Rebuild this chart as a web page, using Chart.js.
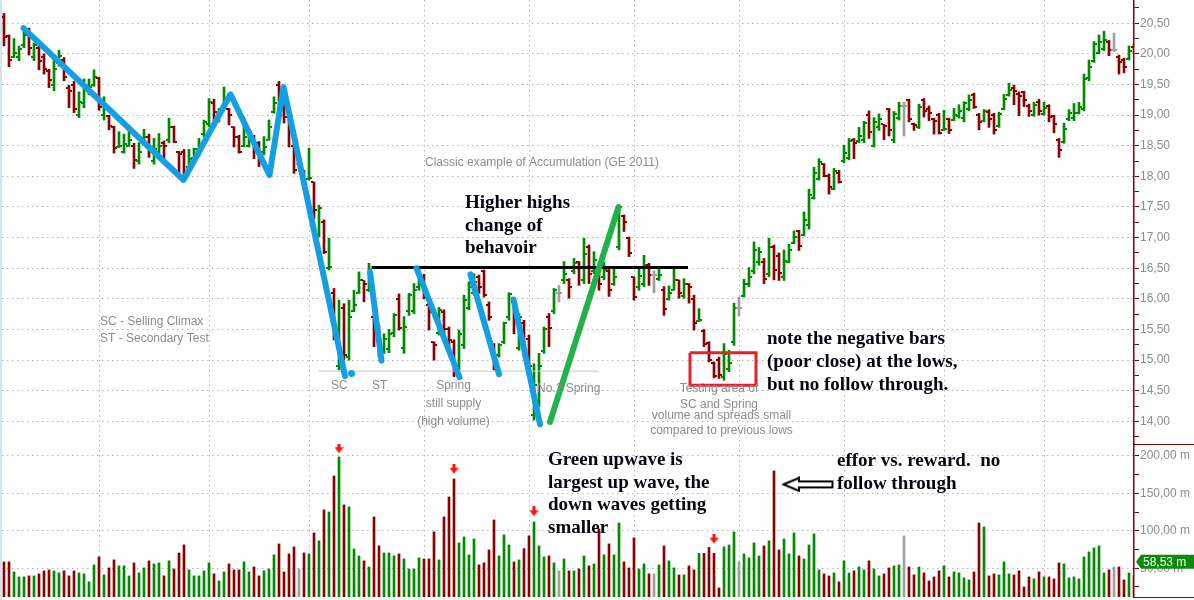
<!DOCTYPE html>
<html>
<head>
<meta charset="utf-8">
<script src="https://cdn.jsdelivr.net/npm/chart.js@4.4.1/dist/chart.umd.min.js"></script>
<style>
  html, body { margin: 0; padding: 0; background: #fff; }
  #wrap { width: 1194px; height: 600px; position: relative; }
  #c { background: linear-gradient(to right, #d6e4ef 0, #d6e4ef 2px, #ffffff 2px); }
</style>
</head>
<body>
<div id="wrap"><canvas id="c"></canvas></div>
<script>
// GE daily bars, one entry per session
const opens = [
  20.6, 20.3, 19.95, 19.95, 20.15, 20.35, 19.95, 20.1, 19.95, 19.72,
  19.5, 19.85, 19.9, 19.45, 19.5, 19.0, 19.2, 19.4, 19.5, 19.6,
  19.0, 18.98, 18.8, 18.48, 18.4, 18.5, 18.5, 18.25, 18.55, 18.65,
  18.25, 18.4, 18.55, 18.6, 18.8, 18.4, 18.4, 18.15, 18.3, 18.35,
  18.7, 18.85, 19.2, 18.95, 19.15, 19.1, 18.8, 18.65, 18.5, 18.5,
  18.65, 18.55, 18.4, 18.6, 19.05, 19.5, 19.15, 19.1, 18.5, 18.2,
  18.08, 17.95, 17.9, 17.05, 17.25, 16.5, 16.1, 14.9, 15.85, 15.05,
  15.8, 16.1, 16.3, 16.15, 15.7, 15.5, 15.15, 15.18, 15.45, 16.0,
  15.2, 15.8, 15.8, 16.2, 16.35, 15.9, 15.3, 15.45, 15.78, 15.5,
  15.3, 14.9, 15.25, 15.85, 16.1, 16.35, 16.45, 15.9, 15.25, 15.08,
  15.3, 15.7, 15.95, 15.2, 15.6, 15.35, 14.1, 14.3, 15.15, 15.7,
  15.8, 16.1, 16.3, 16.3, 16.45, 16.6, 16.3, 16.85, 16.45, 16.45,
  16.35, 16.45, 16.25, 16.85, 17.35, 17.0, 16.35, 16.2, 16.25, 16.55,
  16.39, 16.32, 16.15, 16.0, 16.15, 16.3, 16.05, 16.25, 16.0, 15.64,
  15.48, 15.28, 14.95, 15.0, 14.72, 14.85, 15.3, 15.85, 16.05, 16.25,
  16.45, 16.6, 16.6, 16.4, 16.85, 16.7, 16.35, 16.6, 16.92, 17.1,
  17.05, 17.2, 17.65, 17.95, 18.2, 18.0, 17.8, 18.05, 18.25, 18.3,
  18.6, 18.57, 18.6, 19.0, 18.5, 18.8, 18.85, 19.1, 18.6, 18.95,
  19.15, 19.25, 18.86, 18.8, 19.25, 19.1, 18.93, 19.0, 18.75, 18.93,
  18.92, 18.98, 18.95, 19.1, 19.33, 19.0, 18.9, 19.05, 19.0, 18.82,
  19.1, 19.33, 19.45, 19.35, 19.38, 19.15, 19.0, 19.22, 19.02, 19.15,
  18.98, 18.6, 18.56, 18.93, 18.95, 19.04, 19.1, 19.6, 19.88, 20.02,
  20.08, 20.2, 20.06, 19.95, 19.9, 19.92, 20.12
];
const highs = [
  20.66, 20.31, 20.25, 20.13, 20.42, 20.42, 20.18, 20.13, 20.0, 19.75,
  19.89, 20.06, 19.94, 19.49, 19.55, 19.38, 19.59, 19.59, 19.74, 19.62,
  19.3, 19.0, 18.82, 18.73, 18.69, 18.73, 18.54, 18.55, 18.77, 18.69,
  18.62, 18.7, 18.58, 18.95, 18.82, 18.41, 18.44, 18.44, 18.46, 18.62,
  18.92, 19.27, 19.26, 19.11, 19.46, 19.11, 18.81, 18.67, 18.84, 18.7,
  18.67, 18.57, 18.65, 18.92, 19.3, 19.55, 19.17, 19.11, 18.54, 18.27,
  18.1, 18.46, 17.91, 17.53, 17.29, 16.99, 16.17, 15.98, 15.92, 15.98,
  16.14, 16.44, 16.3, 16.58, 15.73, 15.57, 15.43, 15.5, 15.76, 16.08,
  15.71, 16.09, 16.25, 16.5, 16.4, 15.92, 15.3, 15.86, 15.82, 15.54,
  15.33, 15.49, 16.06, 16.28, 16.41, 16.39, 16.47, 15.95, 15.27, 15.27,
  15.62, 16.1, 15.98, 15.76, 15.65, 15.41, 14.94, 15.11, 15.54, 15.76,
  16.17, 16.22, 16.61, 16.33, 16.66, 16.61, 16.99, 16.88, 16.77, 16.5,
  16.6, 16.5, 16.5, 17.51, 17.37, 17.01, 16.36, 16.5, 16.71, 16.58,
  16.46, 16.5, 16.2, 16.21, 16.5, 16.31, 16.33, 16.25, 16.06, 15.84,
  15.5, 15.3, 14.97, 15.05, 15.27, 15.16, 15.93, 16.03, 16.32, 16.51,
  16.93, 16.84, 16.66, 16.99, 16.88, 16.75, 16.8, 16.89, 17.11, 17.12,
  17.42, 17.79, 18.15, 18.29, 18.21, 18.04, 18.13, 18.1, 18.51, 18.62,
  18.62, 18.8, 18.9, 19.07, 18.96, 19.02, 18.85, 19.11, 19.06, 19.21,
  19.21, 19.26, 18.87, 19.18, 19.27, 19.15, 18.95, 19.03, 19.08, 18.95,
  19.11, 19.17, 19.22, 19.33, 19.36, 19.03, 19.09, 19.09, 19.03, 19.05,
  19.34, 19.52, 19.49, 19.38, 19.39, 19.18, 19.21, 19.26, 19.21, 19.17,
  19.0, 18.62, 18.87, 19.09, 19.19, 19.21, 19.67, 19.9, 20.2, 20.31,
  20.37, 20.22, 20.34, 19.98, 19.93, 20.13, 20.16
];
const lows = [
  20.13, 19.79, 19.94, 19.89, 20.1, 19.98, 19.89, 19.74, 19.67, 19.45,
  19.4, 19.8, 19.56, 19.12, 19.04, 18.96, 19.12, 19.33, 19.47, 19.08,
  18.92, 18.76, 18.38, 18.47, 18.38, 18.49, 18.13, 18.2, 18.5, 18.31,
  18.2, 18.36, 18.3, 18.55, 18.55, 18.03, 17.94, 18.13, 18.26, 18.33,
  18.65, 18.81, 18.92, 18.89, 19.11, 18.84, 18.48, 18.38, 18.48, 18.48,
  18.29, 18.16, 18.35, 18.59, 19.03, 19.11, 18.87, 18.48, 18.05, 18.1,
  17.78, 17.94, 17.31, 17.01, 16.74, 16.47, 15.33, 14.84, 15.0, 15.0,
  15.79, 16.09, 15.95, 16.12, 15.22, 15.05, 15.11, 15.12, 15.38, 15.49,
  15.11, 15.73, 15.76, 16.14, 16.0, 15.49, 15.0, 15.41, 15.43, 15.16,
  14.73, 14.84, 15.19, 15.82, 16.06, 16.09, 16.03, 15.65, 14.84, 15.05,
  15.27, 15.65, 15.43, 15.16, 15.05, 14.84, 14.02, 14.24, 15.11, 15.22,
  15.76, 15.95, 16.25, 16.01, 16.41, 16.22, 16.25, 16.25, 16.41, 16.14,
  16.31, 16.04, 16.22, 16.8, 17.1, 16.69, 15.98, 16.14, 16.2, 16.22,
  16.1, 16.3, 15.73, 15.98, 16.14, 16.01, 16.01, 15.93, 15.49, 15.63,
  15.22, 14.97, 14.71, 14.7, 14.67, 14.81, 15.24, 15.72, 16.03, 16.2,
  16.41, 16.55, 16.25, 16.36, 16.31, 16.3, 16.3, 16.59, 16.9, 16.79,
  17.03, 17.14, 17.63, 17.94, 17.99, 17.71, 17.78, 17.89, 18.22, 18.27,
  18.29, 18.55, 18.55, 18.62, 18.48, 18.75, 18.6, 18.66, 18.55, 18.92,
  18.66, 18.89, 18.75, 18.78, 18.97, 18.91, 18.69, 18.69, 18.75, 18.7,
  18.91, 18.95, 18.89, 19.07, 19.11, 18.76, 18.89, 18.8, 18.69, 18.8,
  19.09, 19.31, 19.17, 18.99, 19.14, 18.98, 18.98, 19.0, 19.0, 18.89,
  18.71, 18.31, 18.54, 18.91, 18.91, 19.02, 19.07, 19.56, 19.86, 20.0,
  20.05, 19.97, 20.04, 19.67, 19.69, 19.9, 20.01
];
const closes = [
  20.28, 19.9, 20.02, 20.08, 20.31, 20.1, 20.15, 19.89, 19.75, 19.58,
  19.76, 19.97, 19.63, 19.4, 19.1, 19.21, 19.46, 19.46, 19.63, 19.13,
  19.15, 18.83, 18.47, 18.5, 18.53, 18.6, 18.26, 18.4, 18.64, 18.47,
  18.44, 18.5, 18.5, 18.81, 18.56, 18.37, 17.99, 18.28, 18.45, 18.46,
  18.89, 19.21, 19.05, 19.08, 19.27, 19.0, 18.65, 18.39, 18.65, 18.62,
  18.51, 18.29, 18.48, 18.81, 19.19, 19.33, 18.97, 19.03, 18.1, 18.2,
  17.83, 17.98, 17.45, 17.48, 16.77, 16.52, 15.43, 15.11, 15.08, 15.7,
  15.9, 16.31, 16.25, 16.47, 15.6, 15.11, 15.35, 15.42, 15.73, 15.52,
  15.54, 16.06, 16.14, 16.28, 16.1, 15.79, 15.25, 15.82, 15.5, 15.33,
  14.81, 15.43, 15.98, 16.2, 16.28, 16.2, 16.06, 15.71, 14.89, 15.24,
  15.6, 16.08, 15.71, 15.7, 15.15, 14.9, 14.6, 14.9, 15.5, 15.52,
  16.14, 16.1, 16.41, 16.2, 16.58, 16.52, 16.74, 16.4, 16.63, 16.25,
  16.47, 16.15, 16.36, 17.5, 17.26, 16.75, 16.03, 16.37, 16.55, 16.39,
  16.39, 16.39, 15.84, 16.09, 16.31, 16.1, 16.25, 16.2, 15.6, 15.66,
  15.27, 15.0, 14.74, 14.75, 15.1, 14.95, 15.85, 15.85, 16.25, 16.35,
  16.8, 16.77, 16.33, 16.85, 16.47, 16.43, 16.62, 16.8, 17.01, 16.86,
  17.29, 17.69, 18.06, 18.24, 18.0, 17.83, 18.08, 17.91, 18.38, 18.57,
  18.55, 18.66, 18.87, 18.73, 18.89, 18.94, 18.83, 18.75, 19.02, 19.15,
  19.15, 18.94, 18.84, 19.14, 19.07, 19.04, 18.91, 18.71, 18.78, 18.76,
  19.0, 19.06, 19.19, 19.25, 19.13, 18.89, 19.07, 18.94, 18.76, 19.02,
  19.27, 19.41, 19.4, 19.31, 19.25, 19.07, 19.17, 19.06, 19.12, 18.97,
  18.85, 18.43, 18.78, 19.04, 19.04, 19.14, 19.59, 19.79, 20.16, 20.2,
  20.22, 20.06, 20.06, 19.86, 19.79, 20.05, 20.05
];
// volume in millions of shares
const volumes = [
  58.4, 58.4, 45, 38.4, 38.4, 39.7, 39.7, 42.4, 46.4, 47.7,
  46.4, 43.7, 46.4, 39.7, 46.4, 43.7, 42.4, 31.7, 54.4, 65.1,
  41, 50.4, 61.1, 53.1, 53.1, 39.7, 57.1, 43.7, 50.4, 59.8,
  55.8, 57.1, 39.7, 59.8, 49, 70.4, 81.1, 47.7, 39.7, 39.7,
  46.4, 57.1, 42.4, 33, 45, 55.8, 47.7, 47.7, 58.4, 45,
  51.7, 39.7, 46.4, 49, 67.8, 82.5, 45, 69.1, 78.5, 49,
  70.4, 69.1, 97.2, 86.5, 127.9, 125.2, 173.3, 198.7, 134.6, 131.9,
  75.8, 66.4, 59.8, 51.7, 118.5, 79.8, 70.4, 70.4, 66.4, 69.1,
  62.4, 49, 49, 63.8, 62.4, 62.4, 98.5, 61.1, 118.5, 145.2,
  169.3, 83.8, 91.8, 67.8, 89.1, 54.4, 57.1, 74.4, 114.5, 66.4,
  94.5, 81.1, 58.4, 61.1, 76.2, 93.2, 111.9, 79.8, 65.1, 66.4,
  57.1, 46.4, 62.4, 46.4, 46.4, 49, 66.4, 53.1, 55.8, 102.1,
  67.8, 82.5, 67.8, 110.5, 58.4, 50.4, 90.5, 49, 55.8, 42.4,
  42.4, 54.4, 79.8, 59.8, 50.4, 41, 41, 53.1, 47.7, 69.8,
  69.8, 77.8, 69.8, 23.7, 78.5, 81.1, 98.5, 58.4, 69.1, 63.8,
  83.8, 66.4, 79.8, 86.5, 180, 74.4, 89.1, 69.1, 97.2, 66.4,
  62.4, 81.1, 95.8, 47.7, 42.4, 39.7, 43.7, 31.7, 59.8, 43.7,
  46.4, 51.7, 47.7, 59.8, 49, 39.7, 42.4, 50.4, 53.1, 54.4,
  93.2, 51.7, 41, 51.7, 43.7, 33, 38.4, 46.4, 53.1, 38.4,
  45, 43.7, 37.1, 34.4, 45, 110.5, 105.2, 39.7, 42.4, 41,
  58.4, 42.4, 41, 46.4, 25, 38.4, 35.7, 45, 38.4, 38.4,
  35.7, 57.1, 55.8, 37.1, 38.4, 35.7, 65.1, 71.8, 77.1, 79.8,
  43.7, 47.7, 51.7, 51.7, 34.4, 43.7, 39.7
];
const lastVolumeTag = 58.53;

// axis ticks
const priceTicks = [14, 14.5, 15, 15.5, 16, 16.5, 17, 17.5, 18, 18.5, 19, 19.5, 20, 20.5];
const volumeTicks = [50, 100, 150, 200];
const monthStarts = [19, 41, 61, 84, 105, 126, 147, 168, 188, 208];

// hand drawn markup, in (bar index, price) or (bar index, volume)
const blueWaves = [
  [[3.9, 20.42], [35.9, 17.94], [45.3, 19.34], [53.1, 18.02], [55.9, 19.46], [68.2, 14.74]],
  [[73.2, 16.44], [75.5, 14.99]],
  [[82.5, 16.5], [91.1, 14.72]],
  [[93.3, 16.4], [99.0, 14.77]],
  [[101.9, 15.99], [107.2, 13.95]]
];
const blueDot = [[69.5, 14.78]];
const greenWave = [[109.2, 13.99], [122.9, 17.5]];
const resistance = [[73.5, 16.51], [136.8, 16.51]];
const support = [[63, 14.82], [119, 14.82]];
const testBox = [[137.2, 15.12], [150.4, 15.12], [150.4, 14.59], [137.2, 14.59], [137.2, 15.12]];
const volumeArrows = [[67, 210.3], [90, 183], [106, 126], [142, 89.5]];
const effortArrow = [[160.8, 162]];

const notes = [
  { lines: ['Higher highs', 'change of', 'behavoir'], x: 92.2, y: 17.56, axis: 'y', bold: true, lh: 22.5 },
  { lines: ['note the negative bars', '(poor close) at the lows,', 'but no follow through.'], x: 152.6, y: 15.34, axis: 'y', bold: true, lh: 23 },
  { lines: ['Green upwave is', 'largest up wave, the', 'down waves getting', 'smaller'], x: 108.8, y: 194.7, axis: 'yv', bold: true, lh: 22.7 },
  { lines: ['effor vs. reward.  no', 'follow through'], x: 166.6, y: 193.3, axis: 'yv', bold: true, lh: 23 },
  { lines: ['Classic example of Accumulation (GE 2011)'], x: 84.2, y: 18.23, axis: 'y' },
  { lines: ['SC - Selling Climax', 'ST - Secondary Test'], x: 19.2, y: 15.62, axis: 'y', lh: 17 },
  { lines: ['SC'], x: 65.4, y: 14.58, axis: 'y' },
  { lines: ['ST'], x: 73.6, y: 14.58, axis: 'y' },
  { lines: ['Spring', 'still supply', '(high volume)'], x: 89.9, y: 14.58, axis: 'y', align: 'center', lh: 18 },
  { lines: ['No.2 Spring'], x: 106.6, y: 14.54, axis: 'y' },
  { lines: ['Testing area of', 'SC and Spring'], x: 143, y: 14.54, axis: 'y', align: 'center', lh: 16 },
  { lines: ['volume and spreads small', 'compared to previous lows'], x: 143.5, y: 14.1, axis: 'y', align: 'center', lh: 15 }
];

const GREEN = '#008a00', RED = '#8b0000', GRAY = '#a0a0a0', AXIS = '#8b0000';
const BLUE = '#149fe2', WAVE_GREEN = '#22b24c', GRID = '#b4b4b4';

const barColors = closes.map((c, i) => c > opens[i] ? GREEN : (c < opens[i] ? RED : GRAY));
const fmt = v => v.toFixed(2).replace('.', ',');
const isMajor = (v, list) => list.some(t => Math.abs(t - v) < 1e-6);
const pts = arr => arr.map(p => ({ x: p[0], y: p[1] }));

function tickImage(color, left) {
  const c = document.createElement('canvas');
  c.width = 6; c.height = 2;
  const g = c.getContext('2d');
  g.fillStyle = color;
  g.fillRect(left ? 0 : 4, 0, 2, 2);
  return c;
}
const openImgs = {}, closeImgs = {};
[GREEN, RED, GRAY].forEach(c => { openImgs[c] = tickImage(c, true); closeImgs[c] = tickImage(c, false); });

const redArrow = (() => {
  const c = document.createElement('canvas');
  c.width = 9; c.height = 10;
  const g = c.getContext('2d');
  g.fillStyle = '#ff1010';
  g.fillRect(3, 0, 3, 5);
  g.beginPath(); g.moveTo(0, 4); g.lineTo(9, 4); g.lineTo(4.5, 10); g.closePath(); g.fill();
  return c;
})();
const hollowArrow = (() => {
  const c = document.createElement('canvas');
  c.width = 52; c.height = 16;
  const g = c.getContext('2d');
  g.fillStyle = '#fff'; g.strokeStyle = '#000'; g.lineWidth = 2;
  g.beginPath();
  g.moveTo(1.5, 8); g.lineTo(17, 1.5); g.lineTo(17, 5); g.lineTo(50.5, 5);
  g.lineTo(50.5, 11); g.lineTo(17, 11); g.lineTo(17, 14.5); g.closePath();
  g.fill(); g.stroke();
  return c;
})();

const markup = {
  id: 'markup',
  afterDatasetsDraw(chart) {
    const { ctx, scales } = chart;
    ctx.save();
    ctx.textBaseline = 'middle';
    notes.forEach(n => {
      const px = scales.x.getPixelForValue(n.x);
      const py = scales[n.axis].getPixelForValue(n.y);
      ctx.font = n.bold ? 'bold 19px "Liberation Serif", "Times New Roman", serif'
                        : '12px "Liberation Sans", Arial, sans-serif';
      ctx.fillStyle = n.bold ? '#05050f' : '#8c8c8c';
      ctx.textAlign = n.align || 'left';
      n.lines.forEach((t, k) => ctx.fillText(t, px, py + k * (n.lh || 16)));
    });
    ctx.restore();
  },
  afterDraw(chart) {
    const { ctx, chartArea, scales } = chart;
    ctx.save();
    ctx.strokeStyle = AXIS;
    ctx.lineWidth = 1;
    [scales.y.bottom, scales.yv.bottom].forEach(yy => {
      ctx.beginPath();
      ctx.moveTo(chartArea.right, Math.round(yy) + 0.5);
      ctx.lineTo(chart.width, Math.round(yy) + 0.5);
      ctx.stroke();
    });
    // last volume tag
    const ty = scales.yv.getPixelForValue(lastVolumeTag);
    const r = chartArea.right;
    ctx.fillStyle = '#0b8a0b';
    ctx.beginPath();
    ctx.moveTo(r + 2, ty); ctx.lineTo(r + 7, ty - 7); ctx.lineTo(chart.width, ty - 7);
    ctx.lineTo(chart.width, ty + 7); ctx.lineTo(r + 7, ty + 7); ctx.closePath();
    ctx.fill();
    ctx.fillStyle = '#fff';
    ctx.font = '12px "Liberation Sans", Arial, sans-serif';
    ctx.textBaseline = 'middle';
    ctx.textAlign = 'left';
    ctx.fillText(fmt(lastVolumeTag) + ' m', r + 9, ty + 0.5);
    ctx.restore();
  }
};

const lineSet = (data, color, width, extra) => Object.assign({
  type: 'line', data: pts(data), yAxisID: 'y', borderColor: color, borderWidth: width,
  pointRadius: 0, borderCapStyle: 'round', borderJoinStyle: 'round', fill: false, order: 1
}, extra || {});

const datasets = [
  {
    type: 'bar', yAxisID: 'y', order: 10, grouped: false, barThickness: 2,
    data: highs.map((h, i) => ({ x: i, y: [lows[i], h] })),
    backgroundColor: barColors
  },
  {
    type: 'line', yAxisID: 'y', order: 9, showLine: false, pointRadius: 3,
    data: opens.map((o, i) => ({ x: i, y: o })),
    pointStyle: ctx => openImgs[barColors[ctx.dataIndex]]
  },
  {
    type: 'line', yAxisID: 'y', order: 9, showLine: false, pointRadius: 3,
    data: closes.map((c, i) => ({ x: i, y: c })),
    pointStyle: ctx => closeImgs[barColors[ctx.dataIndex]]
  },
  {
    type: 'bar', yAxisID: 'yv', order: 10, grouped: false, barThickness: 2, base: 0,
    data: volumes.map((v, i) => ({ x: i, y: v })),
    backgroundColor: barColors
  },
  lineSet(support, '#c4c4c4', 1, { order: 3, borderCapStyle: 'butt' }),
  lineSet(resistance, '#000', 3, { order: 2, borderCapStyle: 'butt' }),
  ...blueWaves.map(w => lineSet(w, BLUE, 6)),
  {
    type: 'line', yAxisID: 'y', order: 1, showLine: false, data: pts(blueDot),
    pointRadius: 3.5, pointBackgroundColor: BLUE, pointBorderWidth: 0
  },
  lineSet(greenWave, WAVE_GREEN, 6),
  lineSet(testBox, '#e4222b', 3, { borderJoinStyle: 'miter', borderCapStyle: 'butt' }),
  {
    type: 'line', yAxisID: 'yv', order: 1, showLine: false, data: pts(volumeArrows),
    pointRadius: 3, pointStyle: redArrow
  },
  {
    type: 'line', yAxisID: 'yv', order: 1, showLine: false, data: pts(effortArrow),
    pointRadius: 3, pointStyle: hollowArrow
  }
];

const labelFont = { family: '"Liberation Sans", Arial, sans-serif', size: 12 };

new Chart(document.getElementById('c'), {
  type: 'bar',
  data: { datasets },
  plugins: [markup],
  options: {
    responsive: true,
    maintainAspectRatio: false,
    animation: false,
    events: [],
    layout: { padding: { left: 2, right: 0, top: 0, bottom: 3 }, autoPadding: false },
    plugins: { legend: { display: false }, tooltip: { enabled: false } },
    scales: {
      x: {
        type: 'linear', min: -0.4, max: 226, offset: false,
        afterBuildTicks: s => { s.ticks = monthStarts.map(v => ({ value: v })); },
        afterFit: s => { s.height = 0; s.paddingLeft = 0; s.paddingRight = 0; },
        ticks: { display: false },
        grid: { color: GRID, drawTicks: false, offset: false },
        border: { display: false, dash: [1.5, 3.5] }
      },
      y: {
        type: 'linear', position: 'right', stack: 'panes', stackWeight: 444,
        min: 13.63, max: 20.88,
        afterBuildTicks: s => {
          const all = priceTicks.map(v => v - 0.25).concat(priceTicks, [priceTicks[priceTicks.length - 1] + 0.25]);
          s.ticks = all.sort((a, b) => a - b).map(v => ({ value: v }));
        },
        afterFit: s => { s.width = 60; s.paddingTop = 0; s.paddingBottom = 0; },
        ticks: {
          autoSkip: false, padding: 1, color: '#8c8c8c', font: labelFont,
          callback: v => isMajor(v, priceTicks) ? fmt(v) : ''
        },
        grid: {
          color: c => c.tick && isMajor(c.tick.value, priceTicks) ? GRID : 'rgba(0,0,0,0)',
          tickColor: AXIS, tickLength: 5
        },
        border: { color: AXIS, width: 1.5, dash: [1.5, 3.5] }
      },
      yv: {
        type: 'linear', position: 'right', stack: 'panes', stackWeight: 153,
        min: 11.5, max: 216,
        afterBuildTicks: s => {
          const all = volumeTicks.map(v => v - 25).concat(volumeTicks);
          s.ticks = all.sort((a, b) => a - b).map(v => ({ value: v }));
        },
        afterFit: s => { s.width = 60; s.paddingTop = 0; s.paddingBottom = 0; },
        ticks: {
          autoSkip: false, padding: 1, color: '#8c8c8c', font: labelFont,
          callback: v => isMajor(v, volumeTicks) ? fmt(v) + ' m' : ''
        },
        grid: {
          color: c => c.tick && isMajor(c.tick.value, volumeTicks) ? GRID : 'rgba(0,0,0,0)',
          tickColor: AXIS, tickLength: 5
        },
        border: { color: AXIS, width: 1.5, dash: [1.5, 3.5] }
      }
    }
  }
});
</script>
</body>
</html>
